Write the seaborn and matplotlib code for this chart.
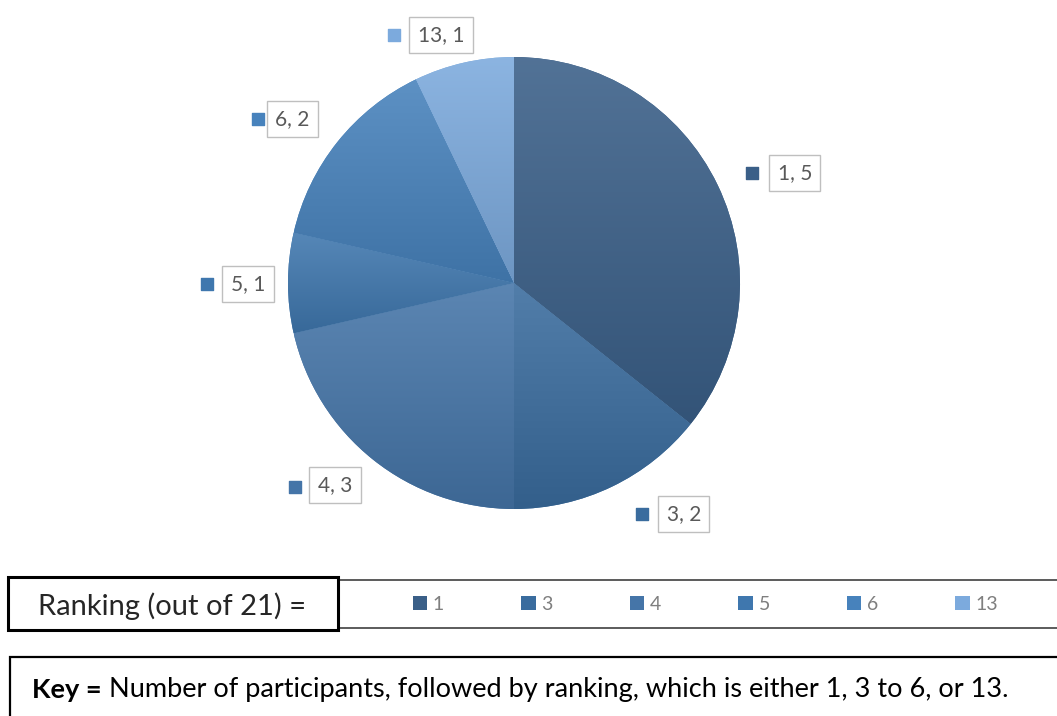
import numpy as np
import matplotlib
matplotlib.use("Agg")
import matplotlib.pyplot as plt
import matplotlib.colors as mcolors
from matplotlib.patches import Rectangle
import seaborn as sns

# data
rankings = ["1", "3", "4", "5", "6", "13"]
participants = [5, 2, 3, 1, 2, 1]
slice_colors = ["#3a5f88", "#3a6c9e", "#4575a8", "#3f77ae", "#4782bc", "#7caadd"]
slice_labels = [f"{r}, {n}" for r, n in zip(rankings, participants)]

# label placement (data coords, pie radius = 1): text centre, marker
label_pos = [(1.243, 0.487), (0.752, -1.022), (-0.792, -0.894),
             (-1.177, -0.004), (-0.982, 0.726), (-0.323, 1.097)]
marker_pos = [(1.053, 0.487), (0.566, -1.022), (-0.969, -0.903),
              (-1.358, -0.004), (-1.133, 0.726), (-0.531, 1.097)]

sns.set_theme(style="white")
plt.rcParams["font.family"] = ["Lato", "DejaVu Sans"]

W, H = 1057, 716
fig = plt.figure(figsize=(W / 100, H / 100), dpi=100)
fig.patch.set_facecolor("white")

# pie axes: centre (514, 283) px, radius 226 px
cx, cy, r = 514, 283, 226
ax = fig.add_axes([(cx - r) / W, (H - cy - r) / H, 2 * r / W, 2 * r / H])
wedges, _ = ax.pie(participants, colors=slice_colors, startangle=90,
                   counterclock=False, radius=1,
                   wedgeprops=dict(linewidth=0))

# vertical gradient inside every wedge (lighter on top)
grad = np.linspace(0, 1, 256).reshape(-1, 1)
for w, c in zip(wedges, slice_colors):
    base = np.array(mcolors.to_rgb(c))
    light = base + (1 - base) * 0.12
    dark = base * 0.88
    cmap = mcolors.LinearSegmentedColormap.from_list("g", [dark, light])
    v = w.get_path().vertices
    im = ax.imshow(grad, extent=[v[:, 0].min(), v[:, 0].max(), v[:, 1].min(), v[:, 1].max()],
                   origin="lower", cmap=cmap, aspect="auto", zorder=w.get_zorder() + 0.1)
    im.set_clip_path(w)

ax.set_xlim(-1, 1)
ax.set_ylim(-1, 1)
ax.set_axis_off()

# data labels with small colour squares
for lab, (tx, ty), (mx, my), c in zip(slice_labels, label_pos, marker_pos, slice_colors):
    ax.text(tx, ty, lab, ha="center", va="center", fontsize=15, color="#595959", zorder=5,
            bbox=dict(boxstyle="square,pad=0.4", fc="white", ec="#bfbfbf", lw=1))
    ax.scatter([mx], [my], marker="s", s=80, color=c, clip_on=False, zorder=5)

# bottom boxes
fig.patches.append(Rectangle((338 / W, (H - 628) / H), 730 / W, 48 / H, transform=fig.transFigure,
                             fill=False, ec="#404040", lw=1.2))
fig.patches.append(Rectangle((8 / W, (H - 630) / H), 330 / W, 53 / H, transform=fig.transFigure,
                             fill=False, ec="black", lw=2.2))
fig.patches.append(Rectangle((10 / W, (H - 720) / H), 1060 / W, 63 / H, transform=fig.transFigure,
                             fill=False, ec="black", lw=1.6))

fig.text(38 / W, (H - 606) / H, "Ranking (out of 21) =", ha="left", va="center",
         fontsize=21, color="#262626")

fig.legend(wedges, rankings, ncol=6, loc="center left", frameon=False,
           bbox_to_anchor=(395 / W, (H - 604) / H), fontsize=14,
           handlelength=0.75, handleheight=0.75, handletextpad=0.3, columnspacing=3.95,
           labelcolor="#7f7f7f")

key = fig.text(32 / W, (H - 690) / H, "Key =", ha="left", va="center",
               fontsize=19.5, fontweight="bold", color="black")
ax.annotate(" Number of participants, followed by ranking, which is either 1, 3 to 6, or 13.",
            xy=(1, 0), xycoords=key, ha="left", va="bottom", fontsize=19.5, color="black",
            annotation_clip=False)

fig.savefig("out.png", dpi=100)
